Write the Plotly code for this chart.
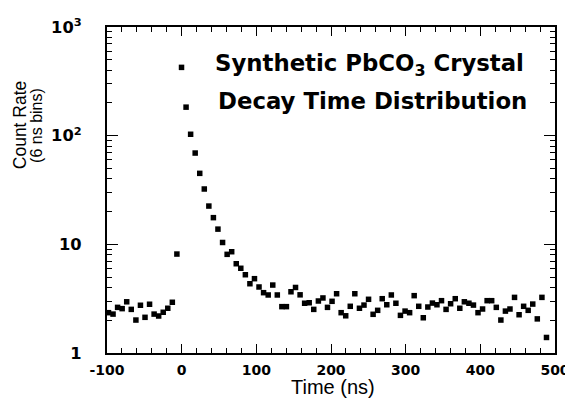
import plotly.graph_objects as go

time_ns = [-98.0, -91.9, -85.8, -79.7, -73.6, -67.5, -61.3, -55.2, -49.1, -43.0,
           -36.9, -30.8, -24.7, -18.6, -12.5, -6.4, -0.2, 5.9, 12.0, 18.1,
           24.2, 30.3, 36.4, 42.5, 48.6, 54.8, 60.9, 67.0, 73.1, 79.2,
           85.3, 91.4, 97.5, 103.6, 109.7, 115.9, 122.0, 128.1, 134.2, 140.3,
           146.4, 152.5, 158.6, 164.7, 170.8, 176.9, 183.1, 189.2, 195.3, 201.4,
           207.5, 213.6, 219.7, 225.8, 231.9, 238.1, 244.2, 250.3, 256.4, 262.5,
           268.6, 274.7, 280.8, 286.9, 293.0, 299.2, 305.3, 311.4, 317.5, 323.6,
           329.7, 335.8, 341.9, 348.0, 354.1, 360.2, 366.4, 372.5, 378.6, 384.7,
           390.8, 396.9, 403.0, 409.1, 415.2, 421.4, 427.5, 433.6, 439.7, 445.8,
           451.9, 458.0, 464.1, 470.2, 476.3, 482.5, 488.6]

count_rate = [2.35, 2.28, 2.63, 2.56, 2.96, 2.52, 2.01, 2.75, 2.13, 2.81,
              2.28, 2.19, 2.37, 2.58, 2.93, 8.14, 425, 183, 103, 69.2,
              45.0, 32.3, 22.5, 17.6, 13.8, 10.4, 8.09, 8.55, 6.63, 6.02,
              5.25, 4.34, 4.83, 4.05, 3.59, 3.42, 4.22, 3.42, 2.67, 2.67,
              3.66, 4.01, 3.43, 2.87, 2.90, 2.52, 3.01, 3.21, 2.63, 2.99,
              3.51, 2.35, 2.20, 2.69, 3.51, 2.58, 2.76, 3.12, 2.27, 2.47,
              3.16, 2.78, 3.42, 2.87, 2.22, 2.43, 2.35, 3.37, 2.69, 2.11,
              2.65, 2.88, 2.78, 3.03, 2.52, 2.84, 3.16, 2.58, 2.96, 2.87,
              2.76, 2.35, 2.54, 3.03, 3.03, 2.63, 2.01, 2.43, 2.54, 3.25,
              2.25, 2.69, 2.47, 2.82, 2.06, 3.25, 1.39]

x_ticks = [-100, 0, 100, 200, 300, 400, 500]

title_line1 = "Synthetic PbCO<sub>3</sub> Crystal"
title_line2 = "Decay Time Distribution"

BOLD = "DejaVu Sans"
REG = "Liberation Sans, Arial, sans-serif"

fig = go.Figure()
fig.add_trace(go.Scatter(
    x=time_ns, y=count_rate, mode="markers",
    marker=dict(symbol="square", size=5.5, color="black", line=dict(width=0)),
    showlegend=False, cliponaxis=False,
))

axis_common = dict(
    showline=True, linecolor="black", linewidth=1.5, mirror="allticks",
    ticks="inside", tickcolor="black", tickwidth=1.3,
    showgrid=False, zeroline=False, automargin=False,
)

fig.update_xaxes(
    range=[-100, 500], tickmode="array", tickvals=x_ticks,
    ticktext=[str(v) for v in x_ticks], ticklen=9,
    ticklabelstandoff=3,
    tickfont=dict(family=BOLD, size=14, color="black", weight="bold"),
    minor=dict(dtick=20, tick0=0, ticks="inside", ticklen=5,
               tickcolor="black", tickwidth=1.2, showgrid=False),
    **axis_common,
)
fig.update_yaxes(
    type="log", range=[0, 3], dtick=1, exponentformat="power", ticklen=11,
    ticklabelstandoff=21,
    tickfont=dict(family=BOLD, size=13, color="black", weight="bold"),
    minor=dict(dtick="D1", ticks="inside", ticklen=5,
               tickcolor="black", tickwidth=1.2, showgrid=False),
    **axis_common,
)

fig.add_annotation(text=title_line1, xref="paper", yref="paper",
                   x=0.2366, y=0.884, xanchor="left", yanchor="middle",
                   showarrow=False,
                   font=dict(family=BOLD, size=22.8, color="black", weight="bold"))
fig.add_annotation(text=title_line2, xref="paper", yref="paper",
                   x=0.243, y=0.773, xanchor="left", yanchor="middle",
                   showarrow=False,
                   font=dict(family=BOLD, size=22.8, color="black", weight="bold"))

fig.add_annotation(text="Count Rate", xref="paper", yref="paper",
                   x=-0.194, y=0.699, textangle=-90, showarrow=False,
                   xanchor="center", yanchor="middle",
                   font=dict(family=REG, size=17.5, color="black"))
fig.add_annotation(text="(6 ns bins)", xref="paper", yref="paper",
                   x=-0.156, y=0.697, textangle=-90, showarrow=False,
                   xanchor="center", yanchor="middle",
                   font=dict(family=REG, size=16, color="black"))
fig.add_annotation(text="Time (ns)", xref="paper", yref="paper",
                   x=0.504, y=-0.104, showarrow=False,
                   xanchor="center", yanchor="middle",
                   font=dict(family=REG, size=20, color="black"))

# page body has an 8px default margin, so the figure is sized to fit inside it
fig.update_layout(
    width=565, height=404,
    margin=dict(l=99, r=18, t=19, b=59, autoexpand=False),
    paper_bgcolor="white", plot_bgcolor="white",
)

fig.write_html("out.html")
